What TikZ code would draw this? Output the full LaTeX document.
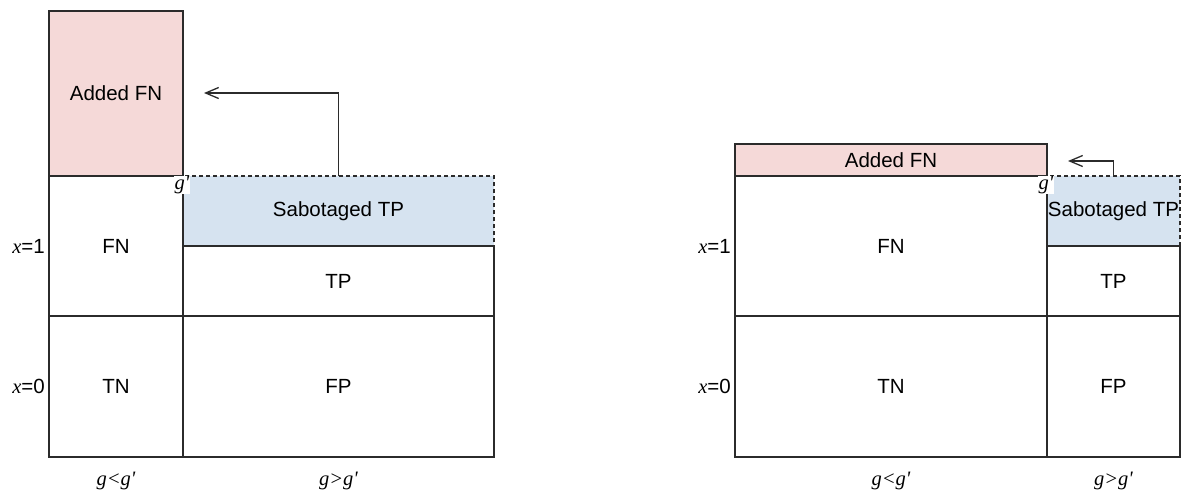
\documentclass[tikz,border=0pt]{standalone}
\usepackage{fontspec}
\setmainfont{Liberation Sans}
\newfontfamily\ttimes{Liberation Serif}
\usetikzlibrary{positioning,arrows.meta}
\definecolor{addfill}{HTML}{F5D9D8}
\definecolor{sabfill}{HTML}{D6E3F0}
\definecolor{edge}{HTML}{2B2B2B}
\newcommand{\gv}[1]{{\ttimes\itshape #1}}

\begin{document}
\begin{tikzpicture}[x=1pt,y=-1pt,font=\fontsize{20.5}{24}\selectfont,
  cell/.style={draw=edge,line width=1.3pt,inner sep=0pt,outer sep=0pt,anchor=north west},
  sab/.style={cell,fill=sabfill,dash pattern=on 4pt off 3pt},
  added/.style={cell,fill=addfill},
  axis/.style={inner sep=4pt},
  corner/.style={fill=white,inner sep=0.5pt},
  flow/.style={draw=edge,line width=1.3pt,-{Straight Barb[length=13pt,width=11pt]}}]
 \useasboundingbox (0,0) rectangle (1183,493);
 % left: shifted threshold
 \node[sab,minimum width=311pt,minimum height=70pt] (sabL) at (183,176) {Sabotaged TP};
 \node[added,minimum width=134pt,minimum height=165pt] (addL) at (49,11) {Added FN};
 \node[cell,minimum width=134pt,minimum height=140pt] (fnL)[below=0pt of addL] {FN};
 \node[cell,minimum width=311pt,minimum height=70pt] (tpL)[below=0pt of sabL] {TP};
 \node[cell,minimum width=134pt,minimum height=141pt] (tnL)[below=0pt of fnL] {TN};
 \node[cell,minimum width=311pt,minimum height=141pt] (fpL)[below=0pt of tpL] {FP};
 \node[corner] (gpL) at ([xshift=-1pt,yshift=-9pt]sabL.north west) {\gv{g'}};
 \coordinate (tipL) at (204,93);
 \draw[flow] (sabL.north) |- (tipL);
 \node[axis,left=0pt of fnL] (x1L) {\gv{x}=1};
 \node[axis,left=0pt of tnL] (x0L) {\gv{x}=0};
 \node[axis,below=11pt of tnL] (ltL) {\gv{g<g'}};
 \node[axis,below=11pt of fpL] (gtL) {\gv{g>g'}};

 % right: small shift
 \node[sab,minimum width=133pt,minimum height=70pt] (sabR) at (1047,176) {Sabotaged TP};
 \node[added,minimum width=312pt,minimum height=32pt] (addR) at (735,144) {Added FN};
 \node[cell,minimum width=312pt,minimum height=140pt] (fnR)[below=0pt of addR] {FN};
 \node[cell,minimum width=133pt,minimum height=70pt] (tpR)[below=0pt of sabR] {TP};
 \node[cell,minimum width=312pt,minimum height=141pt] (tnR)[below=0pt of fnR] {TN};
 \node[cell,minimum width=133pt,minimum height=141pt] (fpR)[below=0pt of tpR] {FP};
 \node[corner] (gpR) at ([xshift=-1pt,yshift=-9pt]sabR.north west) {\gv{g'}};
 \coordinate (tipR) at (1068,161);
 \draw[flow] (sabR.north) |- (tipR);
 \node[axis,left=0pt of fnR] (x1R) {\gv{x}=1};
 \node[axis,left=0pt of tnR] (x0R) {\gv{x}=0};
 \node[axis,below=11pt of tnR] (ltR) {\gv{g<g'}};
 \node[axis,below=11pt of fpR] (gtR) {\gv{g>g'}};
\end{tikzpicture}
\end{document}
